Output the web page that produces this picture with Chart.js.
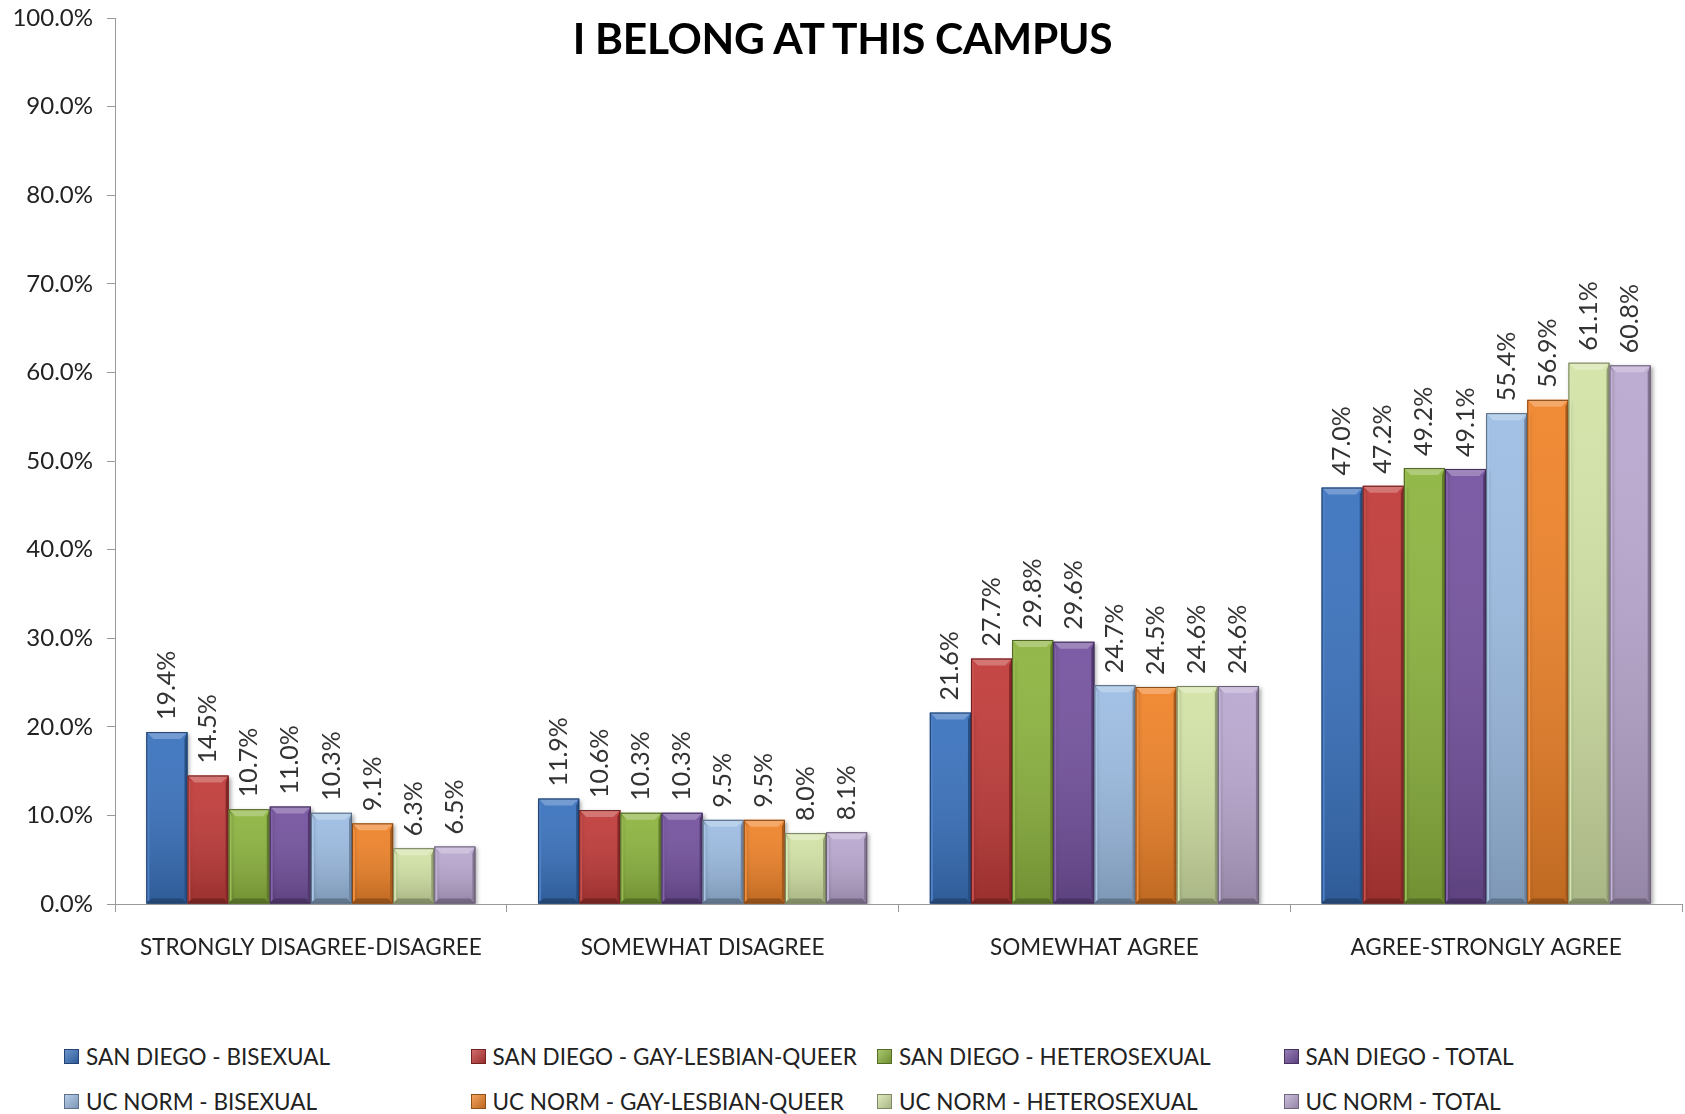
<!DOCTYPE html>
<html>
<head>
<meta charset="utf-8">
<title>I BELONG AT THIS CAMPUS</title>
<script src="https://cdn.jsdelivr.net/npm/chart.js@4.4.1/dist/chart.umd.min.js"></script>
<style>
    body { margin: 0; background: #fff; font-family: Lato, "Open Sans", sans-serif; }
    #page { position: relative; width: 1685px; height: 1114px; overflow: hidden; }
    #chartBox { position: absolute; left: 0; top: 0; width: 1685px; height: 1000px; }
    #title {
        position: absolute; top: 12px; left: 0; width: 1685px; text-align: center;
        font-weight: bold; font-size: 42.5px; color: #000; letter-spacing: -0.3px;
    }
    .legend-item {
        position: absolute; display: flex; align-items: center;
        font-size: 22.5px; color: #222; white-space: nowrap;
    }
    .legend-box { width: 15px; height: 15px; margin-right: 7px; box-sizing: border-box; }
</style>
</head>
<body>
<div id="page">
    <div id="chartBox"><canvas id="chart" width="1685" height="1000"></canvas></div>
    <div id="title">I BELONG AT THIS CAMPUS</div>
    <div id="legend"></div>
</div>
<script>
const categories = ['STRONGLY DISAGREE-DISAGREE', 'SOMEWHAT DISAGREE', 'SOMEWHAT AGREE', 'AGREE-STRONGLY AGREE'];

const seriesNames = [
    'SAN DIEGO - BISEXUAL',
    'SAN DIEGO - GAY-LESBIAN-QUEER',
    'SAN DIEGO - HETEROSEXUAL',
    'SAN DIEGO - TOTAL',
    'UC NORM - BISEXUAL',
    'UC NORM - GAY-LESBIAN-QUEER',
    'UC NORM - HETEROSEXUAL',
    'UC NORM - TOTAL'
];

const sdBisexual = [19.4, 11.9, 21.6, 47.0];
const sdGayLesbianQueer = [14.5, 10.6, 27.7, 47.2];
const sdHeterosexual = [10.7, 10.3, 29.8, 49.2];
const sdTotal = [11.0, 10.3, 29.6, 49.1];
const ucBisexual = [10.3, 9.5, 24.7, 55.4];
const ucGayLesbianQueer = [9.1, 9.5, 24.5, 56.9];
const ucHeterosexual = [6.3, 8.0, 24.6, 61.1];
const ucTotal = [6.5, 8.1, 24.6, 60.8];

const yTicks = [0, 10, 20, 30, 40, 50, 60, 70, 80, 90, 100];

const seriesColors = ['#3A72BE', '#C03B39', '#8DB43F', '#74529F', '#9DBDE3', '#EF8329', '#D3E3A6', '#BAA8D0'];
const seriesData = [sdBisexual, sdGayLesbianQueer, sdHeterosexual, sdTotal, ucBisexual, ucGayLesbianQueer, ucHeterosexual, ucTotal];

function shade(hex, amt) {
    let r = parseInt(hex.slice(1, 3), 16), g = parseInt(hex.slice(3, 5), 16), b = parseInt(hex.slice(5, 7), 16);
    const f = v => Math.max(0, Math.min(255, Math.round(amt < 0 ? v * (1 + amt) : v + (255 - v) * amt)));
    return `rgb(${f(r)},${f(g)},${f(b)})`;
}

// soft shadow behind the bars, bevel look and rotated value labels on top
const barDecor = {
    id: 'barDecor',
    beforeDatasetsDraw(chart) {
        const ctx = chart.ctx;
        ctx.save();
        ctx.shadowColor = 'rgba(0,0,0,0.35)';
        ctx.shadowBlur = 4;
        ctx.shadowOffsetX = 2;
        ctx.shadowOffsetY = 2;
    },
    afterDatasetsDraw(chart) {
        const ctx = chart.ctx;
        ctx.restore();
        chart.data.datasets.forEach((ds, i) => {
            const meta = chart.getDatasetMeta(i);
            const col = seriesColors[i];
            meta.data.forEach(bar => {
                const l = bar.x - bar.width / 2, r = bar.x + bar.width / 2;
                const t = bar.y, b = bar.base;
                const bev = 7;
                ctx.save();
                // body shading
                const g = ctx.createLinearGradient(0, t, 0, b);
                g.addColorStop(0, 'rgba(255,255,255,0.06)');
                g.addColorStop(1, 'rgba(0,0,0,0.2)');
                ctx.fillStyle = g;
                ctx.fillRect(l, t, r - l, b - t);
                // top bevel
                ctx.fillStyle = shade(col, 0.3);
                ctx.beginPath();
                ctx.moveTo(l, t); ctx.lineTo(r, t); ctx.lineTo(r - bev, t + bev); ctx.lineTo(l + bev, t + bev);
                ctx.closePath(); ctx.fill();
                // left edge
                ctx.fillStyle = shade(col, 0.1);
                ctx.beginPath();
                ctx.moveTo(l, t); ctx.lineTo(l + 3, t + bev); ctx.lineTo(l + 3, b - 4); ctx.lineTo(l, b);
                ctx.closePath(); ctx.fill();
                // right edge
                ctx.fillStyle = shade(col, -0.3);
                ctx.beginPath();
                ctx.moveTo(r, t); ctx.lineTo(r - 3, t + bev); ctx.lineTo(r - 3, b - 4); ctx.lineTo(r, b);
                ctx.closePath(); ctx.fill();
                // bottom bevel
                ctx.fillStyle = shade(col, -0.38);
                ctx.beginPath();
                ctx.moveTo(l, b); ctx.lineTo(r, b); ctx.lineTo(r - 5, b - 5); ctx.lineTo(l + 5, b - 5);
                ctx.closePath(); ctx.fill();
                // outline
                ctx.strokeStyle = shade(col, -0.45);
                ctx.lineWidth = 1;
                ctx.strokeRect(l + 0.5, t + 0.5, r - l - 1, b - t - 1);
                ctx.restore();
            });
        });

        ctx.save();
        ctx.font = '25px Lato, "Open Sans", sans-serif';
        ctx.fillStyle = '#333';
        ctx.textAlign = 'left';
        ctx.textBaseline = 'middle';
        chart.data.datasets.forEach((ds, i) => {
            chart.getDatasetMeta(i).data.forEach((bar, j) => {
                ctx.save();
                ctx.translate(bar.x, bar.y - 12);
                ctx.rotate(-Math.PI / 2);
                ctx.fillText(ds.data[j].toFixed(1) + '%', 0, 0);
                ctx.restore();
            });
        });
        ctx.restore();
    }
};

const datasets = seriesNames.map((name, i) => ({
    label: name,
    data: seriesData[i],
    backgroundColor: seriesColors[i],
    borderWidth: 0,
    categoryPercentage: 0.84,
    barPercentage: 1.0
}));

new Chart(document.getElementById('chart'), {
    type: 'bar',
    data: { labels: categories, datasets: datasets },
    plugins: [barDecor],
    options: {
        responsive: false,
        animation: false,
        layout: { padding: { top: 18, right: 3, left: 0, bottom: 0 } },
        plugins: {
            legend: { display: false },
            tooltip: { enabled: false }
        },
        scales: {
            x: {
                afterFit: scale => { scale.height = 96; },
                grid: { display: true, drawOnChartArea: false, tickLength: 8, color: '#999', offset: true },
                border: { color: '#999' },
                ticks: { color: '#222', padding: 22, font: { size: 22.5, family: 'Lato' } }
            },
            y: {
                min: 0,
                max: 100,
                afterFit: scale => {
                    scale.width = 115;
                    scale.paddingTop = 8;
                    scale.paddingBottom = 8;
                },
                afterBuildTicks: scale => { scale.ticks = yTicks.map(v => ({ value: v })); },
                grid: { display: true, drawOnChartArea: false, tickLength: 8, color: '#999' },
                border: { color: '#999' },
                ticks: {
                    color: '#222',
                    padding: 14,
                    font: { size: 24, family: 'Lato' },
                    callback: v => v.toFixed(1) + '%'
                }
            }
        }
    }
});

// legend (4 columns, 2 rows)
const legend = document.getElementById('legend');
seriesNames.forEach((name, i) => {
    const item = document.createElement('div');
    item.className = 'legend-item';
    item.style.left = (64 + (i % 4) * 406.5) + 'px';
    item.style.top = (1057 + Math.floor(i / 4) * 45 - 14) + 'px';
    const box = document.createElement('span');
    box.className = 'legend-box';
    box.style.background = `linear-gradient(135deg, ${shade(seriesColors[i], 0.25)}, ${shade(seriesColors[i], -0.2)})`;
    box.style.border = '1px solid ' + shade(seriesColors[i], -0.4);
    const txt = document.createElement('span');
    txt.textContent = name;
    item.appendChild(box);
    item.appendChild(txt);
    legend.appendChild(item);
});
</script>
</body>
</html>
